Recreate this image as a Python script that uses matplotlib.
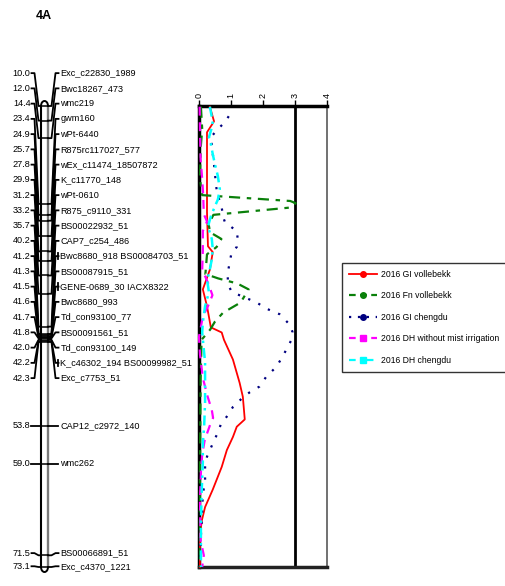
import matplotlib
matplotlib.use("Agg")
import matplotlib.pyplot as plt
from matplotlib.patches import Arc
from matplotlib.lines import Line2D

plt.rcParams["font.family"] = ["Liberation Sans Narrow", "Liberation Sans", "DejaVu Sans"]

# linkage map of chromosome 4A (cM, marker)
positions = [10.0, 12.0, 14.4, 23.4, 24.9, 25.7, 27.8, 29.9, 31.2, 33.2, 35.7,
             40.2, 41.2, 41.3, 41.5, 41.6, 41.7, 41.8, 42.0, 42.2, 42.3,
             53.8, 59.0, 71.5, 73.1]
markers = ["Exc_c22830_1989", "Bwc18267_473", "wmc219", "gwm160", "wPt-6440",
           "R875rc117027_577", "wEx_c11474_18507872", "K_c11770_148", "wPt-0610",
           "R875_c9110_331", "BS00022932_51", "CAP7_c254_486",
           "Bwc8680_918 BS00084703_51", "BS00087915_51", "GENE-0689_30 IACX8322",
           "Bwc8680_993", "Td_con93100_77", "BS00091561_51", "Td_con93100_149",
           "K_c46302_194 BS00099982_51", "Exc_c7753_51", "CAP12_c2972_140",
           "wmc262", "BS00066891_51", "Exc_c4370_1221"]

# LOD profiles along the chromosome
gi_voll_cm = [10.1, 12.1, 13.6, 19.3, 24.5, 29.2, 30.0, 32.4, 35.1, 37.4, 40.3, 41.0,
              42.0, 44.7, 47.9, 49.8, 52.9, 53.9, 55.3, 57.1, 59.4, 62.5, 64.9, 66.7,
              68.7, 73.1]
gi_voll_lod = [0.34, 0.47, 0.25, 0.25, 0.25, 0.28, 0.43, 0.34, 0.12, 0.25, 0.37, 0.71,
               0.78, 1.06, 1.27, 1.37, 1.43, 1.18, 1.06, 0.87, 0.71, 0.43, 0.19, 0.09,
               0.03, 0.03]

fn_voll_cm = [10.1, 13.2, 15.9, 20.0, 22.2, 23.0, 23.3, 23.9, 24.9, 26.2, 27.3, 28.2,
              29.3, 30.3, 33.0, 33.6, 34.3, 35.1, 36.9, 38.3, 39.5, 40.6, 42.0, 47.4,
              60.0, 73.1]
fn_voll_lod = [0.06, 0.10, 0.05, 0.03, 0.10, 2.85, 3.02, 2.85, 0.45, 0.30, 0.35, 0.70,
               0.55, 0.25, 0.20, 0.60, 1.20, 1.55, 1.30, 0.75, 0.50, 0.35, 0.08, 0.05,
               0.03, 0.03]

gi_cheng_cm = [11.4, 12.2, 12.9, 13.6, 14.3, 18.0, 20.7, 21.8, 23.9, 25.1, 25.9, 26.6,
               27.1, 28.2, 29.3, 30.0, 31.4, 32.8, 34.4, 35.4, 35.8, 36.2, 36.9, 37.8,
               38.5, 39.9, 40.9, 42.0, 43.1, 44.3, 45.7, 47.0, 48.4, 49.2, 49.9, 51.2,
               52.5, 53.6, 54.7, 55.8, 56.8, 58.0, 59.1, 61.6, 63.0, 66.7, 69.4, 73.1]
gi_cheng_lod = [0.93, 0.81, 0.65, 0.50, 0.37, 0.47, 0.53, 0.56, 0.71, 0.75, 0.81, 1.02,
                1.18, 1.21, 1.18, 1.02, 0.96, 0.90, 0.90, 1.02, 1.21, 1.43, 1.80, 2.14,
                2.52, 2.83, 2.92, 2.89, 2.76, 2.61, 2.42, 2.11, 1.89, 1.58, 1.37, 1.06,
                0.87, 0.68, 0.59, 0.47, 0.37, 0.25, 0.19, 0.19, 0.12, 0.09, 0.05, 0.05]

dh_mist_cm = [10.1, 13.2, 17.3, 20.0, 22.1, 24.8, 25.8, 27.1, 29.9, 32.4, 34.4, 35.9,
              37.4, 38.8, 41.6, 44.0, 47.2, 49.5, 51.6, 52.7, 53.6, 55.7, 57.7, 60.1,
              63.9, 69.4, 71.5, 73.1]
dh_mist_lod = [0.02, 0.03, 0.05, 0.10, 0.13, 0.15, 0.25, 0.12, 0.12, 0.10, 0.30, 0.42,
               0.28, 0.12, 0.00, 0.03, 0.12, 0.25, 0.40, 0.44, 0.35, 0.18, 0.10, 0.06,
               0.03, 0.05, 0.15, 0.10]

dh_cheng_cm = [10.1, 11.5, 12.5, 14.3, 15.2, 16.6, 18.0, 19.6, 21.4, 22.8, 23.7, 25.1,
               26.5, 28.2, 29.6, 31.0, 33.0, 33.7, 35.5, 37.4, 39.6, 41.0, 45.1, 50.5,
               53.9, 56.1, 58.8, 62.1, 66.7, 73.1]
dh_cheng_lod = [0.34, 0.40, 0.43, 0.31, 0.37, 0.43, 0.50, 0.59, 0.65, 0.59, 0.50, 0.37,
                0.28, 0.40, 0.43, 0.40, 0.31, 0.25, 0.31, 0.19, 0.12, 0.10, 0.19, 0.19,
                0.16, 0.12, 0.12, 0.09, 0.06, 0.06]

series_names = ["2016 GI vollebekk", "2016 Fn vollebekk", "2016 GI chengdu",
                "2016 DH without mist irrigation", "2016 DH chengdu"]
lod_ticks = [0, 1, 2, 3, 4]
threshold = 3

W, H = 506, 586
fig = plt.figure(figsize=(W / 100, H / 100), dpi=100)

# both panels share the same cM -> pixel mapping (10 cM at y=106, 73.1 cM at y=567)
y_top, y_bot = 106, 567
ax_b = 1 - y_bot / H
ax_h = (y_bot - y_top) / H
ymin, ymax = positions[0], positions[-1]

# ---- linkage map ----
ax_map = fig.add_axes([0, ax_b, 190 / W, ax_h])
ax_map.set_xlim(0, 190)
ax_map.set_ylim(ymax, ymin)
ax_map.axis("off")

# label layout: first 21 spread evenly, the rest near their own positions
px_per_cm = (y_bot - y_top) / (ymax - ymin)
label_y = ([5.5 + i * 15.25 / px_per_cm for i in range(21)] + positions[21:23]
           + [71.2, 73.0])

cl, cr = 41, 48
ax_map.plot([cl, cl], [ymin, ymax], color="black", lw=1.5, zorder=2)
ax_map.plot([cr, cr], [ymin, ymax], color="#7a7a7a", lw=1.7, zorder=2)
cap_h = 5 / px_per_cm * 2
ax_map.add_patch(Arc(((cl + cr) / 2, ymin), cr - cl, cap_h, theta1=180, theta2=360,
                     color="black", lw=1.4, clip_on=False))
ax_map.add_patch(Arc(((cl + cr) / 2, ymax), cr - cl, cap_h, theta1=0, theta2=180,
                     color="black", lw=1.4, clip_on=False))

for pos, name, ly in zip(positions, markers, label_y):
    ax_map.plot([cl, cr], [pos, pos], color="black", lw=1.1, clip_on=False)
    ax_map.plot([31.5, 34.5, 38.5, cl], [ly, ly, pos, pos], color="black", lw=1.3,
                clip_on=False)
    ax_map.plot([cr, 51.5, 55.5, 58.5], [pos, pos, ly, ly], color="black", lw=1.3,
                clip_on=False)
    if " " in name:
        ax_map.plot([58.5, 58.5], [ly - 0.45, ly + 0.45], color="black", lw=1.3,
                    clip_on=False)
    ax_map.text(30.5, ly, f"{pos:.1f}", ha="right", va="center", fontsize=6.6,
                clip_on=False)
    ax_map.text(60.5, ly, name, ha="left", va="center", fontsize=6.6, clip_on=False)

# ---- LOD panel ----
ax = fig.add_axes([199 / W, ax_b, 128 / W, ax_h])
ax.set_xlim(0, 4)
ax.set_ylim(ymax, ymin)

ax.plot(gi_voll_lod, gi_voll_cm, color="#ff0000", lw=1.3, zorder=3, clip_on=False)
ax.plot(fn_voll_lod, fn_voll_cm, color="#0a800a", lw=1.6, ls=(0, (5, 3, 2, 3)),
        zorder=3, clip_on=False)
ax.plot(gi_cheng_lod, gi_cheng_cm, color="#000080", lw=1.6, ls=(0, (1, 4)),
        zorder=3, clip_on=False)
ax.plot(dh_mist_lod, dh_mist_cm, color="#ff00ff", lw=1.6, ls=(0, (4, 3)),
        zorder=3, clip_on=False)
ax.plot(dh_cheng_lod, dh_cheng_cm, color="#00ffff", lw=1.8, ls=(0, (4, 2, 1, 2)),
        zorder=3, clip_on=False)
ax.axvline(threshold, color="black", lw=2)

ax.spines["top"].set_linewidth(2.5)
ax.spines["left"].set_linewidth(2.5)
ax.spines["bottom"].set_linewidth(2.5)
ax.spines["bottom"].set_color("#222222")
ax.spines["right"].set_linewidth(1.3)
ax.spines["right"].set_color("#666666")

ax.set_xticks(lod_ticks)
ax.set_xticklabels([str(t) for t in lod_ticks], rotation=90, fontsize=6.5)
ax.xaxis.tick_top()
ax.tick_params(axis="x", length=4, width=1, pad=2)
ax.set_yticks([])

# legend
handles = [
    Line2D([], [], color="#ff0000", lw=1.3, marker="o", markersize=4),
    Line2D([], [], color="#0a800a", lw=1.6, ls=(0, (3, 2)), marker="o", markersize=4),
    Line2D([], [], color="#000080", lw=1.6, ls=(0, (1, 3)), marker="o", markersize=4),
    Line2D([], [], color="#ff00ff", lw=1.6, ls=(0, (3, 2)), marker="s", markersize=4),
    Line2D([], [], color="#00ffff", lw=1.6, ls=(0, (3, 2, 1, 2)), marker="s",
           markersize=4),
]
leg = fig.legend(handles, series_names, loc="upper left",
                 bbox_to_anchor=(342 / W, 1 - 263 / H), fontsize=6.2,
                 frameon=True, fancybox=False, handlelength=3.3, handletextpad=0.45,
                 labelspacing=1.45, borderpad=0.8, borderaxespad=0)
leg.get_frame().set_edgecolor("black")
leg.get_frame().set_linewidth(1.0)

fig.text(36 / W, 1 - 16 / H, "4A", fontsize=9, fontweight="bold", ha="left",
         va="center")

fig.savefig("out.png", dpi=100)
